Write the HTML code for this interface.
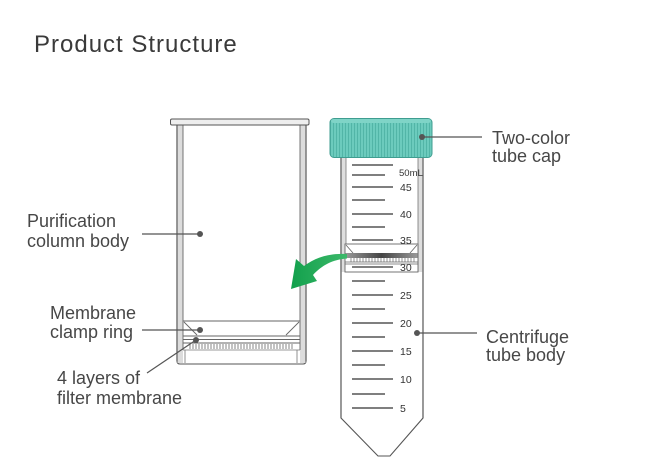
<!DOCTYPE html>
<html>
<head>
<meta charset="utf-8">
<style>
html,body{margin:0;padding:0;background:#fff;}
body{width:652px;height:470px;overflow:hidden;}
svg{display:block;}
text{font-family:"Liberation Sans",sans-serif;}
</style>
</head>
<body>
<svg width="652" height="470" viewBox="0 0 652 470" xmlns="http://www.w3.org/2000/svg">
  <defs>
    <pattern id="capstripe" x="0" y="0" width="3" height="10" patternUnits="userSpaceOnUse">
      <rect width="3" height="10" fill="#6ccbbd"/>
      <rect width="1" height="10" fill="#52b5a7"/>
    </pattern>
    <linearGradient id="band" x1="0" y1="0" x2="1" y2="0">
      <stop offset="0" stop-color="#999"/>
      <stop offset="0.5" stop-color="#444"/>
      <stop offset="1" stop-color="#999"/>
    </linearGradient>
    <linearGradient id="green" x1="0" y1="0" x2="1" y2="0">
      <stop offset="0" stop-color="#12a04c"/>
      <stop offset="1" stop-color="#3cb96a"/>
    </linearGradient>
  </defs>

  <!-- Title -->
  <text x="34" y="52" font-size="24" fill="#3a3a3a" letter-spacing="1">Product Structure</text>

  <!-- ===== Left purification column ===== -->
  <path d="M177,125 L177,361 Q177,364 180,364 L303,364 Q306,364 306,361 L306,125 Z" fill="#fff" stroke="#555" stroke-width="1.1"/>
  <rect x="177.5" y="125" width="5.5" height="238" fill="#dcdcdc"/>
  <rect x="300" y="125" width="5.5" height="238" fill="#dcdcdc"/>
  <line x1="183" y1="125" x2="183" y2="350" stroke="#666" stroke-width="0.9"/>
  <line x1="300" y1="125" x2="300" y2="350" stroke="#666" stroke-width="0.9"/>
  <line x1="185" y1="350" x2="185" y2="363" stroke="#777" stroke-width="0.8"/>
  <line x1="297" y1="350" x2="297" y2="363" stroke="#777" stroke-width="0.8"/>
  <line x1="177" y1="125" x2="177" y2="361" stroke="#555" stroke-width="1.1"/>
  <line x1="306" y1="125" x2="306" y2="361" stroke="#555" stroke-width="1.1"/>
  <!-- flange -->
  <rect x="170.5" y="119" width="138.5" height="6" rx="1.5" fill="#eeeeee" stroke="#555" stroke-width="1"/>
  <!-- clamp ring -->
  <line x1="183" y1="321" x2="300" y2="321" stroke="#666" stroke-width="0.9"/>
  <line x1="184" y1="322" x2="197" y2="335" stroke="#666" stroke-width="0.9"/>
  <line x1="299" y1="322" x2="286" y2="335" stroke="#666" stroke-width="0.9"/>
  <line x1="183" y1="336" x2="300" y2="336" stroke="#666" stroke-width="0.9"/>
  <line x1="183" y1="339.5" x2="300" y2="339.5" stroke="#666" stroke-width="0.9"/>
  <line x1="183" y1="343" x2="300" y2="343" stroke="#666" stroke-width="0.9"/>
  <line x1="183" y1="350" x2="300" y2="350" stroke="#777" stroke-width="0.8"/>
  <g stroke="#666" stroke-width="0.8">
    <line x1="190" y1="344" x2="190" y2="349"/><line x1="193" y1="344" x2="193" y2="349"/>
    <line x1="196" y1="344" x2="196" y2="349"/><line x1="199" y1="344" x2="199" y2="349"/>
    <line x1="202" y1="344" x2="202" y2="349"/><line x1="205" y1="344" x2="205" y2="349"/>
    <line x1="208" y1="344" x2="208" y2="349"/><line x1="211" y1="344" x2="211" y2="349"/>
    <line x1="214" y1="344" x2="214" y2="349"/><line x1="217" y1="344" x2="217" y2="349"/>
    <line x1="220" y1="344" x2="220" y2="349"/><line x1="223" y1="344" x2="223" y2="349"/>
    <line x1="226" y1="344" x2="226" y2="349"/><line x1="229" y1="344" x2="229" y2="349"/>
    <line x1="232" y1="344" x2="232" y2="349"/><line x1="235" y1="344" x2="235" y2="349"/>
    <line x1="238" y1="344" x2="238" y2="349"/><line x1="241" y1="344" x2="241" y2="349"/>
    <line x1="244" y1="344" x2="244" y2="349"/><line x1="247" y1="344" x2="247" y2="349"/>
    <line x1="250" y1="344" x2="250" y2="349"/><line x1="253" y1="344" x2="253" y2="349"/>
    <line x1="256" y1="344" x2="256" y2="349"/><line x1="259" y1="344" x2="259" y2="349"/>
    <line x1="262" y1="344" x2="262" y2="349"/><line x1="265" y1="344" x2="265" y2="349"/>
    <line x1="268" y1="344" x2="268" y2="349"/><line x1="271" y1="344" x2="271" y2="349"/>
    <line x1="274" y1="344" x2="274" y2="349"/><line x1="277" y1="344" x2="277" y2="349"/>
    <line x1="280" y1="344" x2="280" y2="349"/><line x1="283" y1="344" x2="283" y2="349"/>
    <line x1="286" y1="344" x2="286" y2="349"/><line x1="289" y1="344" x2="289" y2="349"/>
    <line x1="292" y1="344" x2="292" y2="349"/>
  </g>

  <!-- ===== Right centrifuge tube ===== -->
  <path d="M341,157 L341,418 L378,456 L390,456 L423,418 L423,157 Z" fill="#fff" stroke="#555" stroke-width="1.1"/>
  <rect x="341.5" y="157" width="4.5" height="115" fill="#dedede"/>
  <rect x="418" y="157" width="4.5" height="115" fill="#dedede"/>
  <line x1="346" y1="157" x2="346" y2="272" stroke="#777" stroke-width="0.8"/>
  <line x1="418" y1="157" x2="418" y2="272" stroke="#777" stroke-width="0.8"/>
  <line x1="341" y1="157" x2="341" y2="418" stroke="#555" stroke-width="1.1"/>
  <line x1="423" y1="157" x2="423" y2="418" stroke="#555" stroke-width="1.1"/>

  <!-- ring in tube -->
  <rect x="345" y="244" width="73" height="28" fill="#fff" stroke="#666" stroke-width="0.9"/>
  <line x1="346" y1="245" x2="353" y2="253" stroke="#666" stroke-width="0.8"/>
  <line x1="417" y1="245" x2="410" y2="253" stroke="#666" stroke-width="0.8"/>
  <rect x="345.5" y="253" width="72" height="5" fill="url(#band)"/>
  <line x1="345" y1="262" x2="418" y2="262" stroke="#666" stroke-width="0.8"/>
  <line x1="345" y1="264" x2="418" y2="264" stroke="#666" stroke-width="0.8"/>
  <g stroke="#666" stroke-width="0.7">
    <line x1="351" y1="258" x2="351" y2="262"/><line x1="354" y1="258" x2="354" y2="262"/>
    <line x1="357" y1="258" x2="357" y2="262"/><line x1="360" y1="258" x2="360" y2="262"/>
    <line x1="363" y1="258" x2="363" y2="262"/><line x1="366" y1="258" x2="366" y2="262"/>
    <line x1="369" y1="258" x2="369" y2="262"/><line x1="372" y1="258" x2="372" y2="262"/>
    <line x1="375" y1="258" x2="375" y2="262"/><line x1="378" y1="258" x2="378" y2="262"/>
    <line x1="381" y1="258" x2="381" y2="262"/><line x1="384" y1="258" x2="384" y2="262"/>
    <line x1="387" y1="258" x2="387" y2="262"/><line x1="390" y1="258" x2="390" y2="262"/>
    <line x1="393" y1="258" x2="393" y2="262"/><line x1="396" y1="258" x2="396" y2="262"/>
    <line x1="399" y1="258" x2="399" y2="262"/><line x1="402" y1="258" x2="402" y2="262"/>
    <line x1="405" y1="258" x2="405" y2="262"/><line x1="408" y1="258" x2="408" y2="262"/>
    <line x1="411" y1="258" x2="411" y2="262"/><line x1="414" y1="258" x2="414" y2="262"/>
  </g>

  <!-- graduations -->
  <g stroke="#333" stroke-width="1.3" fill="none">
    <line x1="352" y1="165" x2="393" y2="165"/>
    <line x1="352" y1="175" x2="385" y2="175"/>
    <line x1="352" y1="187" x2="393" y2="187"/>
    <line x1="352" y1="200" x2="385" y2="200"/>
    <line x1="352" y1="214" x2="393" y2="214"/>
    <line x1="352" y1="227" x2="385" y2="227"/>
    <line x1="352" y1="240" x2="393" y2="240"/>
    <line x1="352" y1="267" x2="393" y2="267"/>
    <line x1="352" y1="281" x2="385" y2="281"/>
    <line x1="352" y1="295" x2="393" y2="295"/>
    <line x1="352" y1="309" x2="385" y2="309"/>
    <line x1="352" y1="323" x2="393" y2="323"/>
    <line x1="352" y1="337" x2="385" y2="337"/>
    <line x1="352" y1="351" x2="393" y2="351"/>
    <line x1="352" y1="365" x2="385" y2="365"/>
    <line x1="352" y1="379" x2="393" y2="379"/>
    <line x1="352" y1="394" x2="385" y2="394"/>
    <line x1="352" y1="408" x2="393" y2="408"/>
  </g>
  <g font-size="10.5" fill="#333">
    <text x="399" y="176" font-size="9.5">50mL</text>
    <text x="400" y="191">45</text>
    <text x="400" y="218">40</text>
    <text x="400" y="244">35</text>
    <text x="400" y="271">30</text>
    <text x="400" y="299">25</text>
    <text x="400" y="327">20</text>
    <text x="400" y="355">15</text>
    <text x="400" y="383">10</text>
    <text x="400" y="412">5</text>
  </g>

  <!-- cap -->
  <rect x="330" y="118.5" width="102" height="39" rx="4" fill="url(#capstripe)" stroke="#3f9d90" stroke-width="1"/>
  <rect x="331" y="119" width="100" height="4" rx="3" fill="#7fd4c7"/>

  <!-- green arrow -->
  <path d="M291,289 L296,259 L304,266 C316,257 330,253 347,254 L347,258.5 C333,259.5 322,265 313,275 L317,281 Z" fill="url(#green)"/>

  <!-- leader lines and dots -->
  <g stroke="#555" stroke-width="1.2">
    <line x1="142" y1="234" x2="200" y2="234"/>
    <line x1="142" y1="330" x2="200" y2="330"/>
    <line x1="147" y1="373" x2="196" y2="340"/>
    <line x1="422" y1="137" x2="482" y2="137"/>
    <line x1="417" y1="333" x2="477" y2="333"/>
  </g>
  <g fill="#555">
    <circle cx="200" cy="234" r="3"/>
    <circle cx="200" cy="330" r="3"/>
    <circle cx="196" cy="340" r="3"/>
    <circle cx="422" cy="137" r="3"/>
    <circle cx="417" cy="333" r="3"/>
  </g>

  <!-- labels -->
  <g font-size="18" fill="#474747">
    <text x="27" y="227">Purification</text>
    <text x="27" y="247">column body</text>
    <text x="50" y="319">Membrane</text>
    <text x="50" y="338">clamp ring</text>
    <text x="57" y="384">4 layers of</text>
    <text x="57" y="404">filter membrane</text>
    <text x="492" y="144">Two-color</text>
    <text x="492" y="162">tube cap</text>
    <text x="486" y="343">Centrifuge</text>
    <text x="486" y="361">tube body</text>
  </g>
</svg>
</body>
</html>
